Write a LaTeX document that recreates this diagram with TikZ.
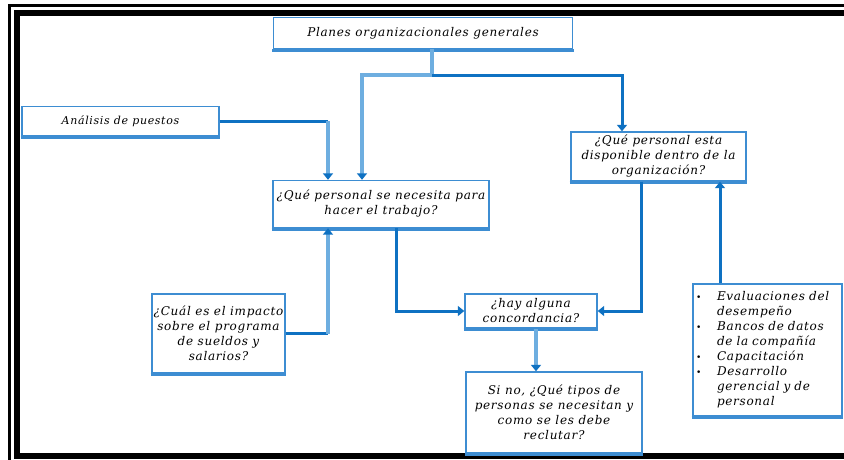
\documentclass[tikz,border=0pt]{standalone}
\usepackage{fontspec}
\setmainfont{DejaVu Serif}
\newfontfamily\boxfont[LetterSpace=6]{DejaVu Serif}
\usetikzlibrary{arrows.meta}
\definecolor{boxblue}{HTML}{3D8DD2}
\definecolor{darkline}{HTML}{0E71C2}
\definecolor{lightline}{HTML}{6EAEE0}
\tikzset{
  box/.style={draw=boxblue, line width=1.4pt, fill=white, align=center,
    inner sep=1pt, font=\boxfont\fontsize{12}{15}\selectfont\itshape},
  boxbase/.style={draw=boxblue, line width=3pt},
  darkconn/.style={draw=darkline, line width=3pt},
  lightconn/.style={draw=lightline, line width=3.2pt},
  tip/.style={-{Triangle[length=6.5pt,width=10pt,fill=darkline,color=darkline]}},
}
\begin{document}
\begin{tikzpicture}[x=1pt,y=-1pt]
\clip (0,0) rectangle (844,459);
\fill[white] (0,0) rectangle (844,459);

% double black frame
\draw[line width=3pt] (9.5,470) -- (9.5,5.5) -- (860,5.5);
\draw[line width=6pt] (860,456) -- (17,456) -- (17,13) -- (860,13);

% boxes
\node[box, minimum width=299pt, minimum height=31pt] (plan) at (423,33)
  {Planes organizacionales generales};
\node[box, minimum width=197pt, minimum height=29pt] (analisis) at (120.5,121)
  {\fontsize{11}{13}\selectfont Análisis de puestos};
\node[box, minimum width=216pt, minimum height=47pt] (necesita) at (381,204)
  {¿Qué personal se necesita para\\hacer el trabajo?};
\node[box, minimum width=175pt, minimum height=49pt] (dispon) at (658.5,156.5)
  {¿Qué personal esta\\disponible dentro de la\\organización?};
\node[box, minimum width=133pt, minimum height=79pt] (impacto) at (218.5,333.5)
  {¿Cuál es el impacto\\sobre el programa\\de sueldos y\\salarios?};
\node[box, minimum width=132pt, minimum height=34pt] (concord) at (531,311)
  {¿hay alguna\\concordancia?};
\node[box, minimum width=176pt, minimum height=81pt] (sino) at (554,412.5)
  {Si no, ¿Qué tipos de\\personas se necesitan y\\como se les debe\\reclutar?};
\node[box, minimum width=149pt, minimum height=132pt, text width=143pt,
      inner xsep=3pt, align=left] (lista) at (767.5,350)
  {\begin{tabular}{@{}p{21pt}@{}l@{}}
   {\upshape\small •} & Evaluaciones del\\
    & desempeño\\
   {\upshape\small •} & Bancos de datos\\
    & de la compañía\\
   {\upshape\small •} & Capacitación\\
   {\upshape\small •} & Desarrollo\\
    & gerencial y de\\
    & personal
  \end{tabular}};

% heavier lower edge of every box
\foreach \b in {plan,analisis,necesita,dispon,impacto,concord,sino,lista}
  \draw[boxbase] ([xshift=-0.7pt,yshift=-0.8pt]\b.south west) -- ([xshift=0.7pt,yshift=-0.8pt]\b.south east);

% junction points and columns
\coordinate (top) at (432,75);
\coordinate (colA) at (328,0);
\coordinate (colB) at (362,75);
\coordinate (colC) at (622,75);
\coordinate (colD) at (396,0);
\coordinate (colE) at (641,0);
\coordinate (colF) at (720,0);
\coordinate (colG) at (536,0);

% connectors
\draw[lightconn] (plan.south -| top) -- (top);
\draw[lightconn, tip] (top) -- (colB) -- (colB |- necesita.north);
\draw[darkconn, tip] (top) -- (colC) -- (colC |- dispon.north);
\draw[darkconn] (analisis.east) -- (analisis.east -| colA);
\draw[lightconn, tip] (analisis.east -| colA) -- (colA |- necesita.north);
\draw[darkconn] (impacto.east) -- (impacto.east -| colA);
\draw[lightconn, tip] (impacto.east -| colA) -- (colA |- necesita.south);
\draw[darkconn, tip] (colD |- necesita.south) |- (concord.west);
\draw[darkconn, tip] (colE |- dispon.south) |- (concord.east);
\draw[lightconn, tip] (colG |- concord.south) -- (colG |- sino.north);
\draw[darkconn, tip] (colF |- lista.north) -- (colF |- dispon.south);
\end{tikzpicture}
\end{document}
